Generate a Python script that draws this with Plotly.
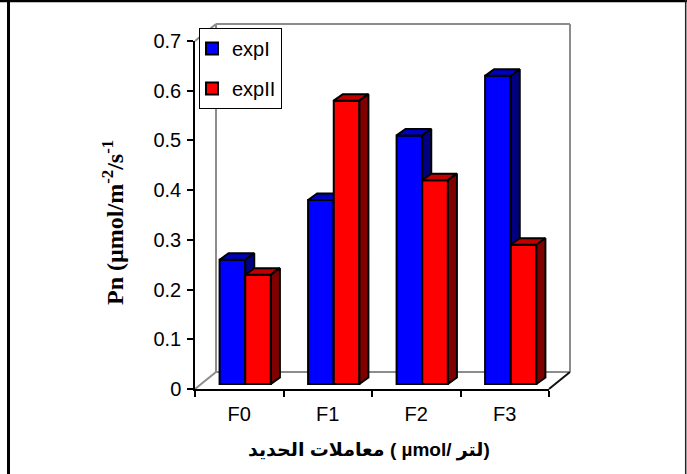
import plotly.graph_objects as go

# ---- data ----
categories = ["F0", "F1", "F2", "F3"]
series_names = ["expI", "expII"]
exp_1 = [0.25, 0.37, 0.50, 0.62]
exp_2 = [0.22, 0.57, 0.41, 0.28]
y_tick_values = [0, 0.1, 0.2, 0.3, 0.4, 0.5, 0.6, 0.7]

# ---- geometry of the pseudo-3D box (pixels) ----
W, H = 687, 474
X0, X1 = 195, 549          # front floor edge, left / right
Y0, Y1 = 389, 41           # value 0 / value 0.7 on the front axis
Y_MAX = 0.7
BAR_SHIFT = (6, -5)        # bars stand a little behind the front plane
WALL_SHIFT = (21, -17)     # back wall depth
FACE_DEPTH = (9, -6.5)     # depth of each bar's top / side faces
BAR_W = 0.29               # bar width in category units

PX_PER_CAT = (X1 - X0) / len(categories)
PX_PER_UNIT = (Y0 - Y1) / Y_MAX


def fx(p):
    return p / W


def fy(p):
    return 1 - p / H


# hidden axes used by the bars (shifted back into the box)
XR_BAR = [-0.6, 3.6]
YR_BAR = [-0.02, 0.72]
bx_org = X0 + BAR_SHIFT[0]
by_org = Y0 + BAR_SHIFT[1]
bar_xdom = [fx(bx_org + (XR_BAR[0] + 0.5) * PX_PER_CAT),
            fx(bx_org + (XR_BAR[1] + 0.5) * PX_PER_CAT)]
bar_ydom = [fy(by_org - YR_BAR[0] * PX_PER_UNIT),
            fy(by_org - YR_BAR[1] * PX_PER_UNIT)]

DDX = FACE_DEPTH[0] / PX_PER_CAT
DDY = -FACE_DEPTH[1] / PX_PER_UNIT

front_cols = ["#0000FF", "#FF0000"]
top_cols = ["#0000C0", "#C00000"]
side_cols = ["#000080", "#800000"]
offsets = [-BAR_W, 0.0]
axes_for = [("x2", "y2"), ("x3", "y3")]

fig = go.Figure()

# invisible trace so the front category axis knows its categories
fig.add_trace(go.Scatter(x=categories, y=[0] * len(categories), mode="markers",
                         marker=dict(opacity=0), showlegend=False,
                         hoverinfo="skip", xaxis="x", yaxis="y"))

for s, vals in enumerate([exp_1, exp_2]):
    xa, ya = axes_for[s]
    pos = list(range(len(vals)))
    fig.add_trace(go.Bar(
        x=pos, y=vals, name=series_names[s], offset=offsets[s], width=BAR_W,
        marker=dict(color=front_cols[s], line=dict(color="black", width=2)),
        xaxis=xa, yaxis=ya, legendgroup=series_names[s], hoverinfo="skip"))

    tx, ty, sx, sy = [], [], [], []
    for i, v in enumerate(vals):
        xl = i + offsets[s]
        xr = xl + BAR_W
        tx += [xl, xr, xr + DDX, xl + DDX, xl, None]
        ty += [v, v, v + DDY, v + DDY, v, None]
        sx += [xr, xr + DDX, xr + DDX, xr, xr, None]
        sy += [0, DDY, v + DDY, v, 0, None]
    for px, py, col in [(tx, ty, top_cols[s]), (sx, sy, side_cols[s])]:
        fig.add_trace(go.Scatter(
            x=px, y=py, mode="lines", fill="toself", fillcolor=col,
            line=dict(color="black", width=2), showlegend=False,
            hoverinfo="skip", xaxis=xa, yaxis=ya, legendgroup=series_names[s]))

# ---- walls and floor outline ----
gray = "#8C8C8C"
wx0, wx1 = X0 + WALL_SHIFT[0], X1 + WALL_SHIFT[0]
wy0, wy1 = Y0 + WALL_SHIFT[1], Y1 + WALL_SHIFT[1]
wall_lines = [
    ((wx0, wy1), (wx0, wy0), gray),
    ((wx0, wy1), (wx1, wy1), gray),
    ((wx1, wy1), (wx1, wy0), gray),
    ((wx0, wy0), (wx1, wy0), gray),
    ((X0, Y1), (wx0, wy1), gray),
    ((X0, Y0), (wx0, wy0), gray),
    ((X1, Y0), (wx1, wy0), "#111111"),
]
shapes = []
for (a, b, col) in wall_lines:
    shapes.append(dict(type="line", xref="paper", yref="paper",
                       x0=fx(a[0]), y0=fy(a[1]), x1=fx(b[0]), y1=fy(b[1]),
                       line=dict(color=col, width=2), layer="below"))

# outer frame of the figure
shapes += [
    dict(type="line", xref="paper", yref="paper", x0=0, x1=1, y0=fy(1), y1=fy(1),
         line=dict(color="black", width=2.5)),
    dict(type="line", xref="paper", yref="paper", x0=fx(8.5), x1=fx(8.5), y0=0, y1=1,
         line=dict(color="black", width=3)),
    dict(type="line", xref="paper", yref="paper", x0=fx(685.7), x1=fx(685.7), y0=0, y1=1,
         line=dict(color="#222222", width=1.5)),
]

tick_font = dict(family="Liberation Sans, Arial", size=20, color="black")

fig.update_layout(
    template="none",
    width=W, height=H, autosize=False,
    margin=dict(l=0, r=0, t=0, b=0, pad=0, autoexpand=False),
    paper_bgcolor="white", plot_bgcolor="rgba(0,0,0,0)",
    barmode="overlay", hovermode=False,
    shapes=shapes,
    xaxis=dict(domain=[fx(X0), fx(X1)], type="category", categoryorder="array",
               categoryarray=categories, range=[-0.5, len(categories) - 0.5],
               tickson="boundaries", ticks="outside", ticklen=6, tickwidth=1.5,
               tickcolor="black", showline=True, linecolor="black", linewidth=1.5,
               showgrid=False, zeroline=False, tickfont=tick_font, anchor="y",
               ticklabelstandoff=6, automargin=False, fixedrange=True),
    yaxis=dict(domain=[fy(Y0), fy(Y1)], range=[0, Y_MAX], tickvals=y_tick_values,
               ticktext=[f"{v:g}" for v in y_tick_values],
               ticks="outside", ticklen=6, tickwidth=1.5, tickcolor="black",
               showline=True, linecolor="black", linewidth=1.5, showgrid=False,
               zeroline=False, tickfont=tick_font, anchor="x", ticklabelstandoff=2,
               automargin=False, fixedrange=True),
    xaxis2=dict(domain=bar_xdom, range=XR_BAR, visible=False, anchor="y2",
                automargin=False, fixedrange=True),
    yaxis2=dict(domain=bar_ydom, range=YR_BAR, visible=False, anchor="x2",
                automargin=False, fixedrange=True),
    xaxis3=dict(domain=bar_xdom, range=XR_BAR, visible=False, overlaying="x2",
                anchor="y3", automargin=False, fixedrange=True),
    yaxis3=dict(domain=bar_ydom, range=YR_BAR, visible=False, overlaying="y2",
                anchor="x3", automargin=False, fixedrange=True),
    legend=dict(x=fx(199), y=fy(28), xanchor="left", yanchor="top",
                bgcolor="white", bordercolor="black", borderwidth=1,
                font=tick_font, traceorder="grouped", tracegroupgap=11,
                itemwidth=30, indentation=-8),
    annotations=[
        dict(text="Pn (µmol/m<sup>-2</sup>/s<sup>-1</sup>", xref="paper", yref="paper",
             x=fx(113), y=fy(223), xanchor="center", yanchor="middle",
             textangle=-90, showarrow=False,
             font=dict(family="Liberation Serif, Times New Roman", size=24,
                       color="black", weight="bold")),
        dict(text="معاملات الحديد ( µmol/ لتر)", xref="paper", yref="paper",
             x=fx(369), y=fy(450), xanchor="center", yanchor="middle",
             showarrow=False,
             font=dict(family="Liberation Sans, DejaVu Sans", size=19,
                       color="black", weight="bold")),
    ],
)

fig.write_html("out.html")
